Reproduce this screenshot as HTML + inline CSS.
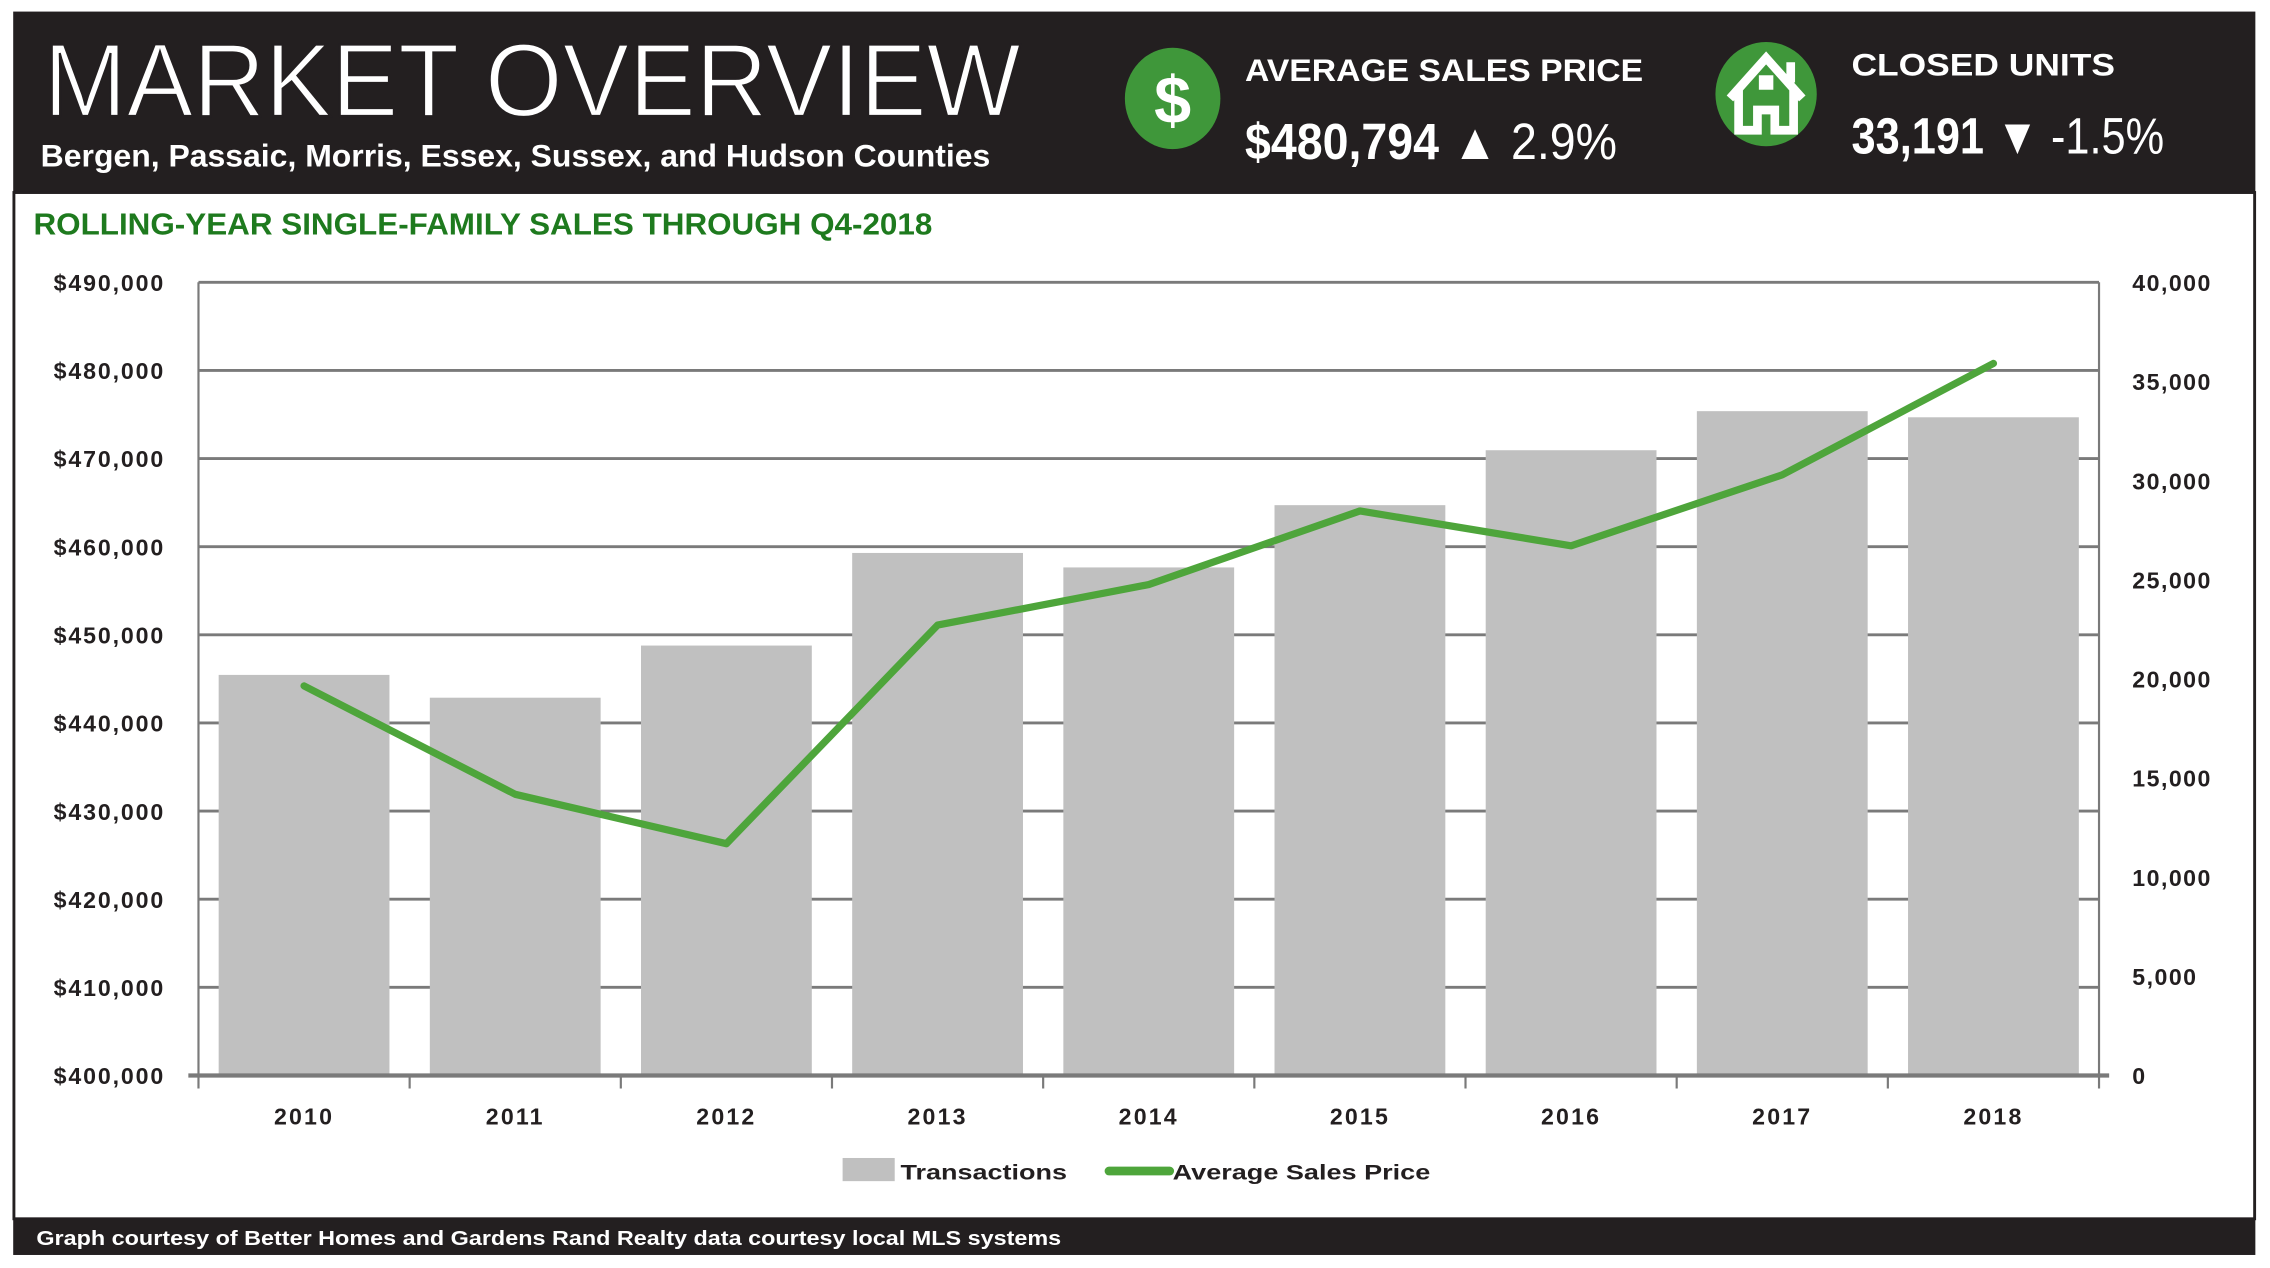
<!DOCTYPE html>
<html><head><meta charset="utf-8"><style>
html,body{margin:0;padding:0;background:#fff;}
svg{display:block;font-family:"Liberation Sans",sans-serif;}
</style></head><body>
<svg id="root" width="2270" height="1268" viewBox="0 0 1568 876" xmlns="http://www.w3.org/2000/svg">
<rect x="0" y="0" width="1568" height="876" fill="#fff"/>
<rect x="9" y="8" width="1549" height="125" fill="#231f20"/>
<rect x="9.5" y="133" width="1548" height="709" fill="none" stroke="#231f20" stroke-width="2"/>
<rect x="9" y="842" width="1549" height="25" fill="#231f20"/>
<text x="30" y="80" fill="#fff" font-size="72" font-weight="300" textLength="675" lengthAdjust="spacingAndGlyphs" stroke="#231f20" stroke-width="1.5">MARKET OVERVIEW</text>
<text x="28" y="115" fill="#fff" font-size="22" font-weight="bold" textLength="656" lengthAdjust="spacingAndGlyphs">Bergen, Passaic, Morris, Essex, Sussex, and Hudson Counties</text>
<g>
<ellipse cx="810" cy="68" rx="33" ry="35" fill="#3f973a"/>
<text x="810" y="85" fill="#fff" font-size="46" font-weight="bold" text-anchor="middle">$</text>
</g>
<text x="860" y="56" fill="#fff" font-size="22" font-weight="bold" textLength="275" lengthAdjust="spacingAndGlyphs">AVERAGE SALES PRICE</text>
<text x="860" y="110" fill="#fff" font-size="35" textLength="257" lengthAdjust="spacingAndGlyphs"><tspan font-weight="bold">$480,794</tspan> ▲ 2.9%</text>
<g>
<ellipse cx="1220" cy="65" rx="35" ry="36" fill="#3f973a"/>
<path d="M1195 68 L1220 40 L1245 68 M1201 62 V90 H1214 V76 H1226 V90 H1239 V62" fill="none" stroke="#fff" stroke-width="6" stroke-linejoin="miter"/>
<rect x="1234" y="43" width="6" height="14" fill="#fff"/>
<rect x="1215" y="52" width="10" height="10" fill="#fff"/>
</g>
<text x="1279" y="52" fill="#fff" font-size="22" font-weight="bold" textLength="182" lengthAdjust="spacingAndGlyphs">CLOSED UNITS</text>
<text x="1279" y="106" fill="#fff" font-size="35" textLength="216" lengthAdjust="spacingAndGlyphs"><tspan font-weight="bold">33,191</tspan> ▼ -1.5%</text>
<text x="23" y="162" fill="#1e7a1e" font-size="21" font-weight="bold" textLength="621" lengthAdjust="spacingAndGlyphs">ROLLING-YEAR SINGLE-FAMILY SALES THROUGH Q4-2018</text>
<g id="chart"></g>
<g>
<rect x="582" y="800" width="36" height="16" fill="#c0c0c0"/>
<text x="622" y="815" font-size="15" font-weight="bold" fill="#231f20" textLength="115" lengthAdjust="spacingAndGlyphs">Transactions</text>
<line x1="766" y1="809" x2="808" y2="809" stroke="#4ea53b" stroke-width="6" stroke-linecap="round"/>
<text x="810" y="815" font-size="15" font-weight="bold" fill="#231f20" textLength="178" lengthAdjust="spacingAndGlyphs">Average Sales Price</text>
</g>
<text x="25" y="860" fill="#fff" font-size="14" font-weight="bold" textLength="708" lengthAdjust="spacingAndGlyphs">Graph courtesy of Better Homes and Gardens Rand Realty data courtesy local MLS systems</text>
</svg>
<script>
const years = ["2010","2011","2012","2013","2014","2015","2016","2017","2018"];
const transactions = [20200, 19050, 21680, 26350, 25620, 28760, 31530, 33500, 33191];
const avgPrice = [444200, 431900, 426300, 451100, 455700, 464050, 460100, 468150, 480794];
const leftTicks = [400000,410000,420000,430000,440000,450000,460000,470000,480000,490000];
const rightTicks = [0,5000,10000,15000,20000,25000,30000,35000,40000];

const NS = "http://www.w3.org/2000/svg";
const g = document.getElementById("chart");
const X0 = 137, X1 = 1450, Y0 = 743, Y1 = 195;
const band = (X1 - X0) / years.length;
const yL = v => Y0 - (v - 400000) / 90000 * (Y0 - Y1);
const yR = v => Y0 - v / 40000 * (Y0 - Y1);
const xC = i => X0 + band * (i + 0.5);
function mk(tag, attrs, txt) {
  const e = document.createElementNS(NS, tag);
  for (const k in attrs) e.setAttribute(k, attrs[k]);
  if (txt !== undefined) e.textContent = txt;
  g.appendChild(e);
  return e;
}
leftTicks.forEach((t, i) => {
  const y = yL(t);
  if (i > 0) {
    const l = mk("line", {x1: X0, x2: X1, y1: y, y2: y, stroke: "#7a7a7a", "stroke-width": 2});
    
    
  }
  const tx = mk("text", {x: 114, y: y + 6, "text-anchor": "end", "font-size": 16, "font-weight": "bold", fill: "#231f20", "letter-spacing": 1.3}, "$" + t.toLocaleString("en-US"));
  
  
});
rightTicks.forEach(t => {
  const tx = mk("text", {x: 1473, y: yR(t) + 6, "font-size": 16, "font-weight": "bold", fill: "#231f20", "letter-spacing": 1}, t.toLocaleString("en-US"));
  
  
});
const la = mk("line", {x1: X0, x2: X0, y1: Y1, y2: Y0 + 9, stroke: "#7a7a7a", "stroke-width": 1.5});


const ra = mk("line", {x1: X1, x2: X1, y1: Y1, y2: Y0 + 9, stroke: "#7a7a7a", "stroke-width": 1.5});


years.forEach((yr, i) => {
  const bw = 118;
  const r = mk("rect", {x: xC(i) - bw / 2, y: yR(transactions[i]), width: bw, height: Y0 - yR(transactions[i]), fill: "#c0c0c0"});
  
  
  const lb = mk("text", {x: xC(i), y: 777, "text-anchor": "middle", "font-size": 16, "font-weight": "bold", fill: "#231f20", "letter-spacing": 1.5}, yr);
  
  
  if (i > 0) {
    const tk = mk("line", {x1: X0 + band * i, x2: X0 + band * i, y1: Y0, y2: Y0 + 9, stroke: "#7a7a7a", "stroke-width": 1.5});
    
    
  }
});
const ba = mk("line", {x1: 130, x2: 1457, y1: Y0, y2: Y0, stroke: "#7a7a7a", "stroke-width": 3});


const pts = avgPrice.map((v, i) => xC(i) + "," + yL(v)).join(" ");
const pl = mk("polyline", {points: pts, fill: "none", stroke: "#4ea53b", "stroke-width": 5, "stroke-linejoin": "round", "stroke-linecap": "round"});


</script>
</body></html>
